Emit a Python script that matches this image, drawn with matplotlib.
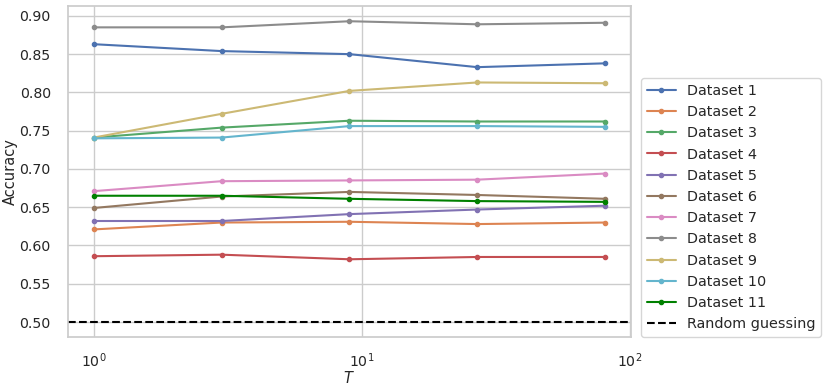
import matplotlib
matplotlib.use("Agg")
import matplotlib.pyplot as plt
import seaborn as sns

sns.set_theme(style="whitegrid", context="notebook")
plt.rcParams['font.family'] = ['DejaVu Sans']
plt.rcParams.update({
    'xtick.labelsize': 10.2, 'ytick.labelsize': 10.2,
    'axes.labelsize': 10.5, 'legend.fontsize': 10.4,
})

T = [1, 3, 9, 27, 81]
labels = [f"Dataset {i}" for i in range(1, 12)]
d1 = [0.863, 0.854, 0.850, 0.833, 0.838]
d2 = [0.621, 0.630, 0.631, 0.628, 0.630]
d3 = [0.741, 0.754, 0.763, 0.762, 0.762]
d4 = [0.586, 0.588, 0.582, 0.585, 0.585]
d5 = [0.632, 0.632, 0.641, 0.647, 0.652]
d6 = [0.649, 0.664, 0.670, 0.666, 0.661]
d7 = [0.671, 0.684, 0.685, 0.686, 0.694]
d8 = [0.885, 0.885, 0.893, 0.889, 0.891]
d9 = [0.741, 0.772, 0.802, 0.813, 0.812]
d10 = [0.740, 0.741, 0.756, 0.756, 0.755]
d11 = [0.665, 0.665, 0.661, 0.658, 0.657]
series = [d1, d2, d3, d4, d5, d6, d7, d8, d9, d10, d11]
random_guess = 0.5

palette = sns.color_palette("deep", 10)
colors = list(palette) + ["green"]

fig, ax = plt.subplots(figsize=(8.31, 3.87), dpi=100)
for lab, vals, c in zip(labels, series, colors):
    ax.plot(T, vals, marker='o', markersize=3, linewidth=1.5, color=c, label=lab)
ax.axhline(random_guess, color='black', linestyle='--', linewidth=1.5, label='Random guessing')
ax.set_xscale('log')
ax.tick_params(axis='y', pad=6.5)
ax.tick_params(axis='x', pad=4)
ax.set_xlabel(r'$T$', labelpad=0)
ax.set_ylabel('Accuracy', labelpad=1)
ax.legend(loc='lower left', bbox_to_anchor=(1.018, 0.0), borderaxespad=0)
fig.subplots_adjust(left=0.082, right=0.759, top=0.984, bottom=0.129)
fig.savefig("out.png", dpi=100)
